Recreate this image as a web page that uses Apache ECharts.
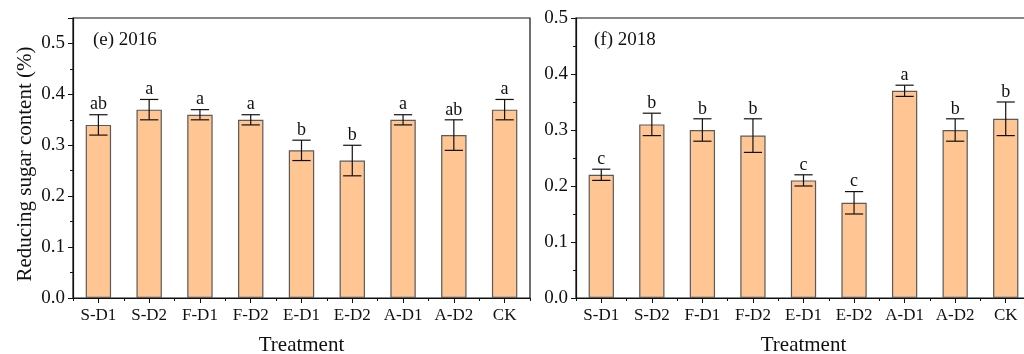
<!DOCTYPE html>
<html>
<head>
<meta charset="utf-8">
<script src="https://cdn.jsdelivr.net/npm/echarts@6/dist/echarts.min.js"></script>
<style>
  html, body { margin: 0; padding: 0; background: #fff; }
  #chart { width: 1024px; height: 354px; }
</style>
</head>
<body>
<div id="chart"></div>
<script>
// Treatments shared by both years
const treatments = ['S-D1', 'S-D2', 'F-D1', 'F-D2', 'E-D1', 'E-D2', 'A-D1', 'A-D2', 'CK'];

// 2016: mean reducing sugar content (%), standard error, significance letters
const mean2016 = [0.34, 0.37, 0.36, 0.35, 0.29, 0.27, 0.35, 0.32, 0.37];
const err2016  = [0.02, 0.02, 0.01, 0.01, 0.02, 0.03, 0.01, 0.03, 0.02];
const sig2016  = ['ab', 'a', 'a', 'a', 'b', 'b', 'a', 'ab', 'a'];

// 2018
const mean2018 = [0.22, 0.31, 0.30, 0.29, 0.21, 0.17, 0.37, 0.30, 0.32];
const err2018  = [0.01, 0.02, 0.02, 0.03, 0.01, 0.02, 0.01, 0.02, 0.03];
const sig2018  = ['c', 'b', 'b', 'b', 'c', 'c', 'a', 'b', 'b'];

const yTicks = [0, 0.1, 0.2, 0.3, 0.4, 0.5];

const FONT = '"Liberation Serif", "Times New Roman", serif';
const INK = '#111';
const BAR_FILL = '#FFC593';
const BAR_EDGE = '#5a5a5a';

const chart = echarts.init(document.getElementById('chart'), null, { renderer: 'canvas' });

function yAxisDef(gridIndex, max) {
  return {
    type: 'value', gridIndex, min: 0, max, interval: 0.1,
    axisLine: { show: true, lineStyle: { color: INK, width: 1.2 } },
    axisTick: { show: true, inside: false, length: 5, lineStyle: { color: INK, width: 1 } },
    minorTick: { show: true, splitNumber: 2, length: 3, lineStyle: { color: INK, width: 1 } },
    splitLine: { show: false },
    axisLabel: {
      fontFamily: FONT, fontSize: 19, color: INK, margin: 8,
      formatter: v => yTicks.some(t => Math.abs(t - v) < 1e-9) ? v.toFixed(1) : ''
    }
  };
}

function xAxisDefs(gridIndex) {
  return [
    {
      type: 'category', gridIndex, data: treatments, boundaryGap: true,
      name: 'Treatment', nameLocation: 'middle', nameGap: 37,
      nameTextStyle: { fontFamily: FONT, fontSize: 21, color: INK },
      axisLine: { show: true, lineStyle: { color: INK, width: 1.2 } },
      axisTick: { show: true, alignWithLabel: true, length: 5, lineStyle: { color: INK } },
      axisLabel: { fontFamily: FONT, fontSize: 17, color: INK, margin: 9, interval: 0 },
      splitLine: { show: false }
    },
    {
      // short ticks on the category boundaries
      type: 'category', gridIndex, data: treatments, boundaryGap: true, position: 'bottom',
      axisLine: { show: false },
      axisTick: { show: true, alignWithLabel: false, interval: 0, length: 3, lineStyle: { color: INK } },
      axisLabel: { show: false },
      splitLine: { show: false }
    }
  ];
}

// error bar + significance letter drawn above each bar
function errorSeries(xAxisIndex, yAxisIndex, means, errs, letters) {
  return {
    type: 'custom', xAxisIndex, yAxisIndex, z: 5,
    data: means.map((m, i) => [i, m, errs[i]]),
    renderItem: (params, api) => {
      const i = api.value(0), m = api.value(1), e = api.value(2);
      const top = api.coord([i, m + e]);
      const bot = api.coord([i, m - e]);
      const bw = api.size([1, 0])[0] * 0.5;
      const half = bw * 0.36;
      const style = { stroke: INK, lineWidth: 1.2 };
      return {
        type: 'group',
        children: [
          { type: 'line', shape: { x1: top[0], y1: top[1], x2: bot[0], y2: bot[1] }, style },
          { type: 'line', shape: { x1: top[0] - half, y1: top[1], x2: top[0] + half, y2: top[1] }, style },
          { type: 'line', shape: { x1: bot[0] - half, y1: bot[1], x2: bot[0] + half, y2: bot[1] }, style },
          {
            type: 'text',
            style: {
              x: top[0], y: top[1] - 1, text: letters[params.dataIndex],
              fill: INK, font: '18px ' + FONT, align: 'center', verticalAlign: 'bottom'
            }
          }
        ]
      };
    }
  };
}

function barSeries(xAxisIndex, yAxisIndex, means) {
  return {
    type: 'bar', xAxisIndex, yAxisIndex, data: means, barWidth: '50%',
    itemStyle: { color: BAR_FILL, borderColor: BAR_EDGE, borderWidth: 1.2 },
    emphasis: { disabled: true }
  };
}

const option = {
  animation: false,
  backgroundColor: '#fff',
  grid: [
    { left: 73, top: 18, width: 457, height: 280, show: true, borderColor: INK, borderWidth: 1.2,
      backgroundColor: 'transparent', outerBoundsMode: 'none', containLabel: false },
    { left: 576, top: 18, width: 455, height: 280, show: true, borderColor: INK, borderWidth: 1.2,
      backgroundColor: 'transparent', outerBoundsMode: 'none', containLabel: false }
  ],
  xAxis: [...xAxisDefs(0), ...xAxisDefs(1)],
  yAxis: [yAxisDef(0, 0.55), yAxisDef(1, 0.5)],
  graphic: [
    { type: 'text', left: 93, top: 31, style: { text: '(e) 2016', font: '19px ' + FONT, fill: INK } },
    { type: 'text', left: 594, top: 31, style: { text: '(f) 2018', font: '19px ' + FONT, fill: INK } },
    {
      type: 'text', x: 25, y: 164, rotation: Math.PI / 2,
      style: { text: 'Reducing sugar content (%)', font: '21px ' + FONT, fill: INK, align: 'center', verticalAlign: 'middle' }
    }
  ],
  series: [
    barSeries(0, 0, mean2016),
    errorSeries(0, 0, mean2016, err2016, sig2016),
    barSeries(2, 1, mean2018),
    errorSeries(2, 1, mean2018, err2018, sig2018)
  ]
};

chart.setOption(option);
</script>
</body>
</html>
